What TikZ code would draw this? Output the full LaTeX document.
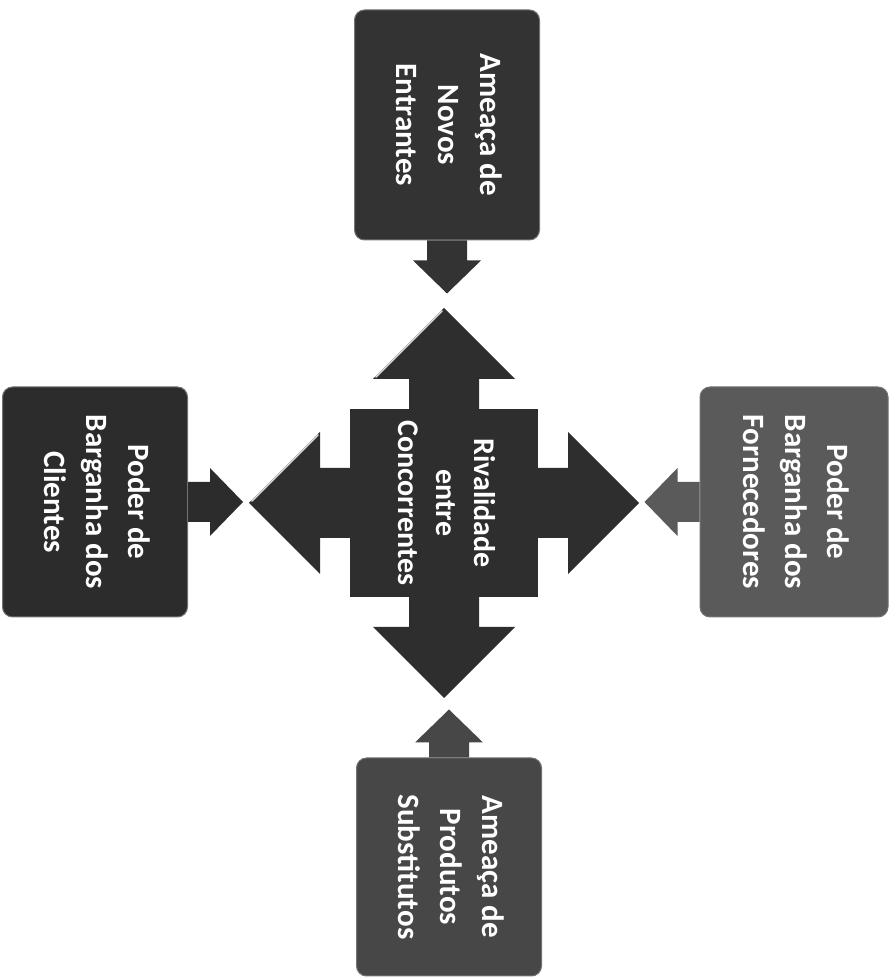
\documentclass[tikz,border=0pt]{standalone}
\usepackage{fontspec}
\setmainfont{Carlito}
\usetikzlibrary{calc}
\definecolor{novosgray}{HTML}{333333}
\definecolor{clientesgray}{HTML}{2C2C2C}
\definecolor{fornecgray}{HTML}{5A5A5A}
\definecolor{substgray}{HTML}{474747}
\definecolor{crossgray}{HTML}{2E2E2E}
\tikzset{
	force/.style={rounded corners=10pt, draw=black!55, line width=1pt,
		text=white, font=\bfseries\fontsize{31}{42}\selectfont,
		minimum width=185pt, minimum height=230pt, inner sep=0pt},
	rival/.style={text=white, font=\bfseries\fontsize{30}{38}\selectfont, inner sep=0pt},
	glint/.style={draw=white!85!black, line width=1.5pt, line cap=round}
}
\newcommand{\turned}[1]{\rotatebox{-90}{\begin{tabular}{@{}c@{}}#1\end{tabular}}}
\newcommand{\blockarrow}[3]{
	\coordinate (hb) at ($(#3)!33pt!(#2)$);
	\fill[#1] ($(#2)!20pt!90:(#3)$) -- ($(hb)!20pt!-90:(#2)$) -- ($(hb)!34pt!-90:(#2)$) -- (#3)
		-- ($(hb)!34pt!90:(#2)$) -- ($(hb)!20pt!90:(#2)$) -- ($(#2)!20pt!-90:(#3)$) -- cycle;
}
\begin{document}
\begin{tikzpicture}[x=1pt, y=1pt]
	\useasboundingbox (0,0) rectangle (895,979);
	\coordinate (c) at (444,476);
	\fill[crossgray] ($(c)+(-94,-94)$) rectangle ($(c)+(94,94)$);
	\foreach \a in {0,90,180,270}
		\fill[crossgray, shift={(c)}, rotate=\a] (-35,0) -- (-35,124) -- (-71,124) -- (0,195)
			-- (71,124) -- (35,124) -- (35,0) -- cycle;
	\draw[glint, shift={(c)}] (-68,126) -- (-2,192);
	\draw[glint, shift={(c)}] (-192,2) -- (-126,68);
	\node[rival] (rival) at (c) {\turned{Rivalidade\\entre\\Concorrentes}};
	\node[force, fill=novosgray] (novos) at (447,854) {\turned{Ameaça de\\Novos\\Entrantes}};
	\node[force, fill=clientesgray] (clientes) at (95,477) {\turned{Poder de\\Barganha dos\\Clientes}};
	\node[force, fill=fornecgray, minimum width=188pt] (fornec) at (794,477) {\turned{Poder de\\Barganha dos\\Fornecedores}};
	\node[force, fill=substgray, minimum height=218pt] (subst) at (449,112) {\turned{Ameaça de\\Produtos\\Substitutos}};
	\coordinate (tn) at ($(novos.south)+(0,-53)$);
	\coordinate (tc) at ($(clientes.east)+(55,0)$);
	\coordinate (tf) at ($(fornec.west)+(-55,0)$);
	\coordinate (ts) at ($(subst.north)+(0,48)$);
	\blockarrow{novosgray}{novos.south}{tn}
	\blockarrow{clientesgray}{clientes.east}{tc}
	\blockarrow{fornecgray}{fornec.west}{tf}
	\blockarrow{substgray}{subst.north}{ts}
\end{tikzpicture}
\end{document}
